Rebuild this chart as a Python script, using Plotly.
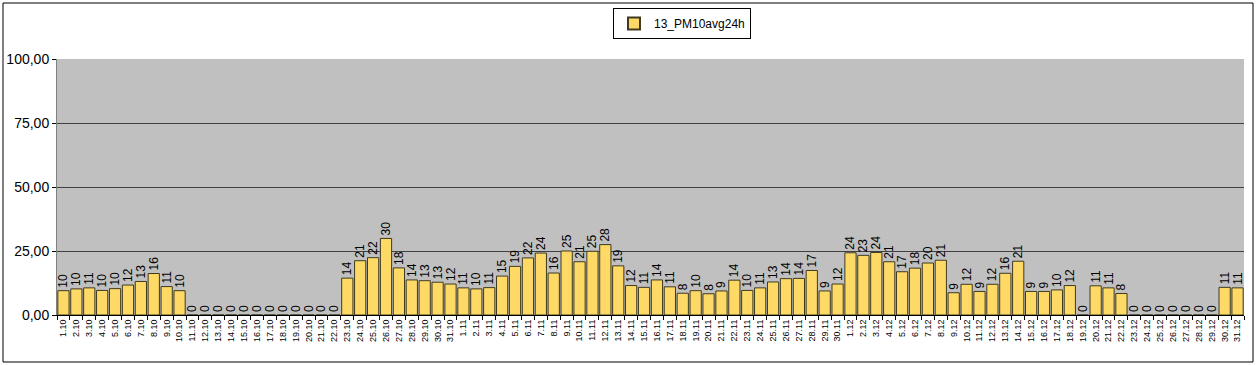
import plotly.graph_objects as go

oct_vals = [9.5, 10.2, 10.6, 9.6, 10.3, 11.7, 13.1, 16.2, 11.1, 9.5,
            0, 0, 0, 0, 0, 0, 0, 0, 0, 0, 0, 0,
            14.4, 21.2, 22.4, 29.9, 18.4, 13.7, 13.4, 12.8, 12.1]
nov_vals = [10.6, 10.2, 10.7, 15.2, 19.0, 22.3, 24.2, 16.4, 25.0, 20.8,
            24.9, 27.5, 19.2, 11.5, 10.8, 13.7, 11.0, 8.5, 9.5, 8.3,
            9.4, 13.6, 9.6, 10.6, 12.9, 14.2, 14.3, 17.4, 9.4, 12.1]
dec_vals = [24.3, 23.3, 24.4, 20.8, 16.9, 18.3, 20.3, 21.4, 8.7, 12.0,
            9.2, 12.0, 16.3, 21.0, 9.2, 9.2, 9.8, 11.5, 0, 11.4,
            10.6, 8.4, 0, 0, 0, 0, 0, 0, 0, 10.8, 10.6]

categories = ([f"{d}.10" for d in range(1, 32)] +
              [f"{d}.11" for d in range(1, 31)] +
              [f"{d}.12" for d in range(1, 32)])
values = oct_vals + nov_vals + dec_vals
series_name = "13_PM10avg24h"
y_ticks = [0, 25, 50, 75, 100]

FONT = "Liberation Sans, Arial, sans-serif"

fig = go.Figure()
fig.add_trace(go.Bar(
    x=categories, y=values, name=series_name,
    marker=dict(color="#FFD966", line=dict(color="#3d3a20", width=1)),
    text=[f"{v:.0f}" for v in values],
    textposition="outside", textangle=-90,
    textfont=dict(family=FONT, size=12, color="#000000"),
    cliponaxis=False, showlegend=True,
))

W, H = 1256, 365
L, R, T, B = 57, 12, 59, 50
pw, ph = W - L - R, H - T - B

def px(x):
    return (x - L) / pw

def py(y):
    return (H - B - y) / ph

fig.update_layout(
    width=W, height=H,
    margin=dict(l=L, r=R, t=T, b=B, autoexpand=False),
    paper_bgcolor="white", plot_bgcolor="#C0C0C0",
    bargap=0.13,
    uniformtext=dict(minsize=12, mode="show"),
    separators=",.",
    font=dict(family=FONT, color="#000000"),
    legend=dict(x=px(682), y=py(23.5), xanchor="center", yanchor="middle",
                orientation="h", bgcolor="white", bordercolor="#000000",
                borderwidth=1, font=dict(family=FONT, size=12),
                itemwidth=30, itemsizing="constant",
                tracegroupgap=0),
    xaxis=dict(type="category", tickangle=-90, tickfont=dict(size=9, family=FONT),
               showgrid=False, ticks="outside", ticklen=4, tickcolor="#000000",
               tickson="boundaries",
               showline=True, linecolor="#000000", linewidth=1),
    yaxis=dict(range=[0, 100], tickvals=y_ticks, tickformat=".2f",
               tickfont=dict(size=14, family=FONT),
               showgrid=True, gridcolor="#404040", gridwidth=1,
               ticks="outside", ticklen=4, tickcolor="#000000",
               showline=True, linecolor="#808080", linewidth=1,
               zeroline=False, fixedrange=True),
    shapes=[dict(type="rect", xref="paper", yref="paper",
                 x0=px(3), x1=px(1253), y0=py(362), y1=py(3),
                 line=dict(color="#000000", width=1), fillcolor="rgba(0,0,0,0)",
                 layer="below")],
)

fig.write_html(
    "out.html",
    config={"displayModeBar": False},
    post_script="document.body.style.margin='0';document.body.style.overflow='hidden';",
)
